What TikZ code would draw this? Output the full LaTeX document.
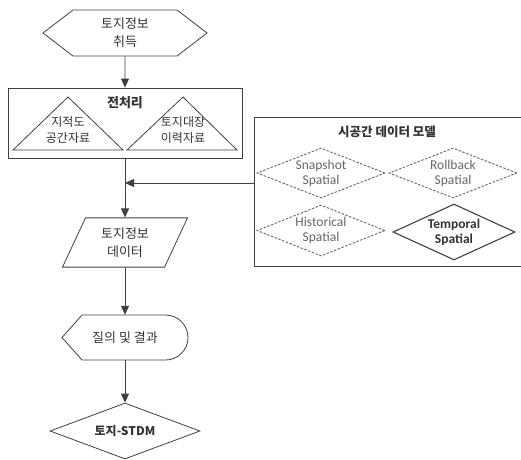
\documentclass[tikz,border=0pt]{standalone}
\usepackage{fontspec}
\setmainfont{Noto Sans CJK KR}
\newfontfamily\latinfont{Carlito}
\usetikzlibrary{shapes.geometric,shapes.symbols,arrows.meta}
\colorlet{linegray}{black!75}
\colorlet{textgray}{black!80}
\begin{document}
\begin{tikzpicture}[x=1pt,y=-1pt,font=\fontsize{13}{18}\selectfont,text=textgray]
      \useasboundingbox (0,0) rectangle (521,459);
      \begin{scope}[every node/.style={draw=linegray,line width=0.8pt,align=center,inner sep=0pt}]
        \node[signal,signal to=west and east,signal pointer angle=75,
          minimum width=164pt,minimum height=46pt] (h_get) at (125,33) {토지정보\\취득};
        \node[minimum width=234pt,minimum height=70pt] (h_pre) at (125,123) {};
        \node[trapezium,trapezium left angle=65,trapezium right angle=115,
          minimum width=125pt,minimum height=45pt] (h_data) at (125,242.5) {토지정보\\데이터};
        \node[diamond,aspect=2.7,minimum width=150pt,minimum height=56pt,
          font=\fontsize{12}{15}\selectfont\bfseries] (h_stdm) at (125,431) {토지-STDM};
        \node[minimum width=272pt,minimum height=149pt] (m_box) at (390,191.5) {};
      \end{scope}
      % preprocessing box content
      \node[font=\fontsize{13}{15}\selectfont\bfseries] (t_pre) at (125,103) {전처리};
      \begin{scope}[every node/.style={align=center,font=\fontsize{12}{16}\selectfont}]
        \node (t_map) at (68,130) {지적도\\공간자료};
        \node (t_reg) at (183,130) {토지대장\\이력자료};
      \end{scope}
      \draw[linegray,line width=0.8pt] (68,97) -- (123,150) -- (13,150) -- cycle;
      \draw[linegray,line width=0.8pt] (183,97) -- (237,150) -- (127,150) -- cycle;
      % query display shape
      \node[minimum width=126pt,minimum height=45pt] (h_query) at (125,337.5) {질의 및 결과};
      \draw[linegray,line width=0.8pt] (82,315) -- (165.5,315)
        arc[start angle=-90,end angle=90,radius=22.5] -- (82,360) -- (62,337.5) -- cycle;
      % spatio-temporal models
      \node[font=\fontsize{12.5}{15}\selectfont\bfseries] (m_title) at (387,132) {시공간 데이터 모델};
      \begin{scope}[every node/.style={diamond,aspect=2.5,align=center,inner sep=0pt,
          font=\latinfont\fontsize{13.5}{15}\selectfont}]
        \begin{scope}[every node/.append style={draw=black!60,line width=0.9pt,dash pattern=on 2.5pt off 1.5pt,text=black!60}]
          \node[minimum width=128pt,minimum height=50pt] (m_snap) at (321,173) {Snapshot\\Spatial};
          \node[minimum width=128pt,minimum height=50pt] (m_roll) at (453,173) {Rollback\\Spatial};
          \node[minimum width=128pt,minimum height=51pt] (m_hist) at (321,230.5) {Historical\\Spatial};
        \end{scope}
        \node[draw=linegray,line width=1.1pt,minimum width=122pt,minimum height=56pt,
          font=\latinfont\fontsize{13.5}{15}\selectfont\bfseries] (m_temp) at (454,232) {Temporal\\Spatial};
      \end{scope}
      \coordinate (m_in) at (254,183);
      \coordinate (h_join) at (125,183);
      \begin{scope}[every edge/.style={draw=linegray,line width=0.8pt,-{Triangle[length=9pt,width=8pt]}}]
        \path (h_get) edge (h_pre);
        \path (h_pre.south) edge (h_pre.south |- h_data.north);
        \path (m_in) edge (h_join);
        \path (h_data.south -| h_query.north) edge (h_query.north);
        \path (h_query.south) edge (h_stdm);
      \end{scope}
    \end{tikzpicture}
\end{document}
